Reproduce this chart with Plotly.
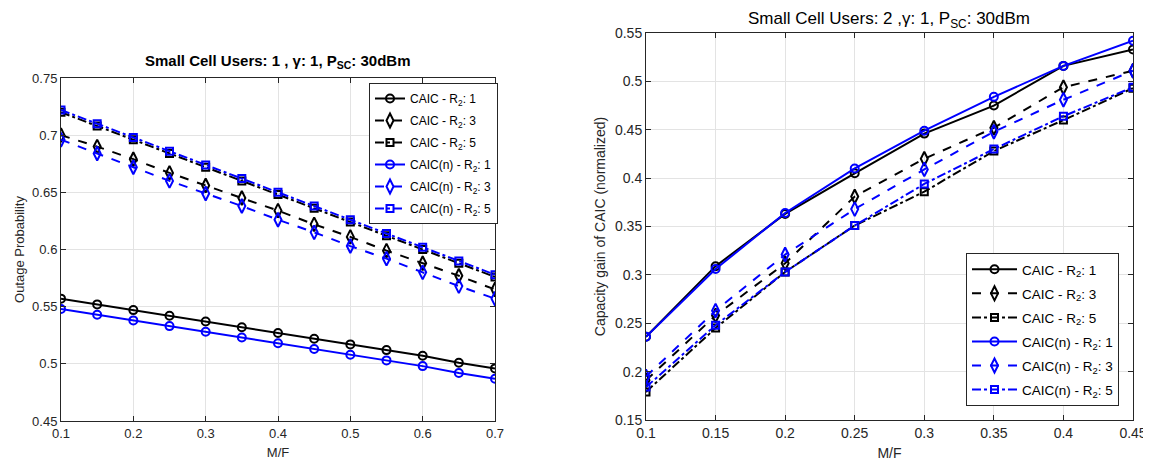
import plotly.graph_objects as go

# ---- Left panel data (Outage probability) ----
x_left = [0.1, 0.15, 0.2, 0.25, 0.3, 0.35, 0.4, 0.45, 0.5, 0.55, 0.6, 0.65, 0.7]
caic_r1_left = [0.557, 0.552, 0.547, 0.542, 0.537, 0.532, 0.527, 0.522, 0.517, 0.512, 0.507, 0.501, 0.496]
caic_r3_left = [0.700, 0.690, 0.679, 0.667, 0.656, 0.645, 0.634, 0.622, 0.611, 0.599, 0.588, 0.577, 0.565]
caic_r5_left = [0.720, 0.708, 0.696, 0.684, 0.672, 0.660, 0.648, 0.636, 0.624, 0.612, 0.600, 0.588, 0.576]
caicn_r1_left = [0.548, 0.543, 0.538, 0.533, 0.528, 0.523, 0.518, 0.513, 0.508, 0.503, 0.498, 0.492, 0.487]
caicn_r3_left = [0.696, 0.684, 0.672, 0.660, 0.649, 0.638, 0.626, 0.615, 0.603, 0.592, 0.580, 0.568, 0.557]
caicn_r5_left = [0.722, 0.710, 0.698, 0.686, 0.674, 0.662, 0.650, 0.638, 0.626, 0.614, 0.602, 0.590, 0.578]

# ---- Right panel data (Capacity gain) ----
x_right = [0.1, 0.15, 0.2, 0.25, 0.3, 0.35, 0.4, 0.45]
caic_r1_right = [0.236, 0.309, 0.363, 0.405, 0.446, 0.475, 0.516, 0.533]
caic_r3_right = [0.191, 0.258, 0.312, 0.381, 0.420, 0.452, 0.494, 0.511]
caic_r5_right = [0.179, 0.245, 0.303, 0.351, 0.386, 0.428, 0.460, 0.493]
caicn_r1_right = [0.236, 0.306, 0.364, 0.410, 0.449, 0.484, 0.516, 0.542]
caicn_r3_right = [0.195, 0.263, 0.321, 0.368, 0.409, 0.448, 0.481, 0.511]
caicn_r5_right = [0.184, 0.248, 0.303, 0.351, 0.394, 0.430, 0.464, 0.494]

labels = ["CAIC - R<sub>2</sub>: 1", "CAIC - R<sub>2</sub>: 3", "CAIC - R<sub>2</sub>: 5",
          "CAIC(n) - R<sub>2</sub>: 1", "CAIC(n) - R<sub>2</sub>: 3", "CAIC(n) - R<sub>2</sub>: 5"]

left_ticks_x = [0.1, 0.2, 0.3, 0.4, 0.5, 0.6, 0.7]
left_ticks_y = [0.45, 0.5, 0.55, 0.6, 0.65, 0.7, 0.75]
right_ticks_x = [0.1, 0.15, 0.2, 0.25, 0.3, 0.35, 0.4, 0.45]
right_ticks_y = [0.15, 0.2, 0.25, 0.3, 0.35, 0.4, 0.45, 0.5, 0.55]

styles = [
    ("black", "solid", "circle-open", 8),
    ("black", "dash", "diamond-tall-open", 10),
    ("black", "dashdot", "square-open", 7),
    ("blue", "solid", "circle-open", 8),
    ("blue", "dash", "diamond-tall-open", 10),
    ("blue", "dashdot", "square-open", 7),
]

FONT = "Liberation Sans, Arial, sans-serif"
TXT = "#262626"
fig = go.Figure()

left_series = [caic_r1_left, caic_r3_left, caic_r5_left, caicn_r1_left, caicn_r3_left, caicn_r5_left]
right_series = [caic_r1_right, caic_r3_right, caic_r5_right, caicn_r1_right, caicn_r3_right, caicn_r5_right]

for i, ((col, dash, sym, ms), lab, ys) in enumerate(zip(styles, labels, left_series)):
    fig.add_trace(go.Scatter(x=x_left, y=ys, name=lab, mode="lines+markers",
                             line=dict(color=col, width=2, dash=dash),
                             marker=dict(symbol=sym, size=ms, color=col, line=dict(width=2, color=col)),
                             xaxis="x", yaxis="y", legend="legend", legendgroup=f"L{i}"))
for i, ((col, dash, sym, ms), lab, ys) in enumerate(zip(styles, labels, right_series)):
    fig.add_trace(go.Scatter(x=x_right, y=ys, name=lab, mode="lines+markers",
                             line=dict(color=col, width=2, dash=dash),
                             marker=dict(symbol=sym, size=ms, color=col, line=dict(width=2, color=col)),
                             xaxis="x2", yaxis="y2", legend="legend2", legendgroup=f"R{i}"))

# page body has an 8px margin: size the figure to the visible area and offset positions
OFF = 8
W, H = 1151 - OFF, 467 - OFF
def px_x(p):
    return (p - OFF) / W
def px_y(p):
    return 1 - (p - OFF) / H

def axis_common(fs):
    return dict(showline=True, linecolor=TXT, linewidth=1, mirror="ticks",
                ticks="inside", ticklen=5, tickcolor=TXT, automargin=False,
                showgrid=True, gridcolor="#e3e3e3", gridwidth=1, zeroline=False,
                tickfont=dict(family=FONT, size=fs, color=TXT))

fig.update_layout(
    width=W, height=H,
    margin=dict(l=0, r=0, t=0, b=0),
    paper_bgcolor="white", plot_bgcolor="white",
    font=dict(family=FONT, size=13, color=TXT),
    xaxis=dict(domain=[px_x(61), px_x(495)], range=[0.1, 0.7], tickvals=left_ticks_x,
               ticktext=[str(v) for v in left_ticks_x], anchor="y",
               title=dict(text="M/F", font=dict(family=FONT, size=13, color=TXT), standoff=8),
               **axis_common(13)),
    yaxis=dict(domain=[px_y(421), px_y(78)], range=[0.45, 0.75], tickvals=left_ticks_y,
               ticktext=[str(v) for v in left_ticks_y], anchor="x",
               title=dict(text="Outage Probability", font=dict(family=FONT, size=13, color=TXT), standoff=4),
               **axis_common(13)),
    xaxis2=dict(domain=[px_x(646), px_x(1133)], range=[0.1, 0.45], tickvals=right_ticks_x,
                ticktext=[str(v) for v in right_ticks_x], anchor="y2",
                title=dict(text="M/F", font=dict(family=FONT, size=14, color=TXT), standoff=8),
                **axis_common(14)),
    yaxis2=dict(domain=[px_y(420), px_y(33)], range=[0.15, 0.55], tickvals=right_ticks_y,
                ticktext=[str(v) for v in right_ticks_y], anchor="x2",
                title=dict(text="Capacity gain of CAIC (normalized)", font=dict(family=FONT, size=14, color=TXT), standoff=6),
                **axis_common(14)),
    legend=dict(x=px_x(498), y=px_y(83), xanchor="right", yanchor="top",
                bgcolor="white", bordercolor=TXT, borderwidth=1,
                font=dict(family=FONT, size=12, color="black"), tracegroupgap=3,
                itemwidth=30),
    legend2=dict(x=px_x(1119), y=px_y(253), xanchor="right", yanchor="top",
                 bgcolor="white", bordercolor=TXT, borderwidth=1,
                 font=dict(family=FONT, size=13.5, color="black"), tracegroupgap=3.5,
                 itemwidth=45),
    annotations=[
        dict(text="<b>Small Cell Users: 1 , γ: 1, P<sub>SC</sub>: 30dBm</b>",
             x=px_x(278), y=px_y(61), xref="paper", yref="paper", showarrow=False,
             xanchor="center", yanchor="middle", font=dict(family=FONT, size=15, color="black")),
        dict(text="Small Cell Users: 2 ,γ: 1, P<sub>SC</sub>: 30dBm",
             x=px_x(889), y=1.0, xref="paper", yref="paper", showarrow=False,
             xanchor="center", yanchor="top", borderpad=0,
             font=dict(family=FONT, size=17, color="black")),
    ],
)

fig.write_html("out.html")
